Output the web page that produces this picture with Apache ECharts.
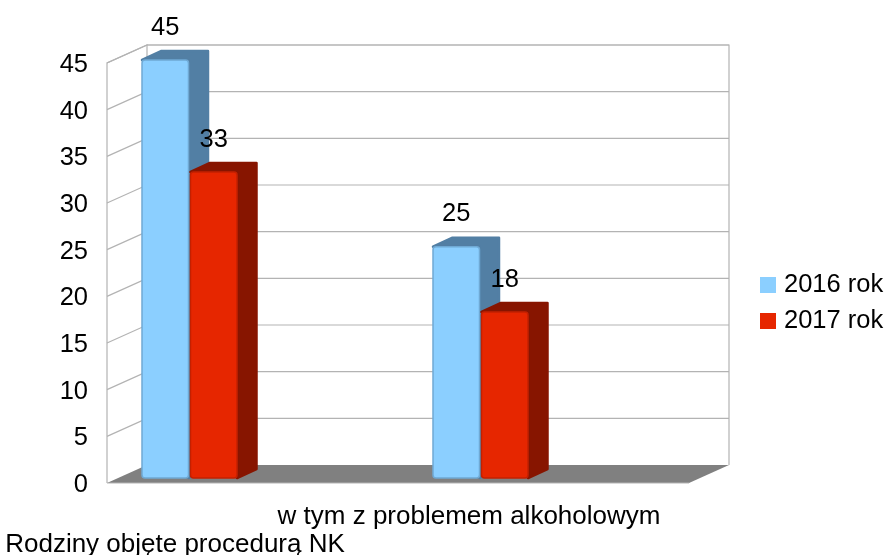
<!DOCTYPE html>
<html><head><meta charset="utf-8">
<style>html,body{margin:0;padding:0;background:#fff}#c{width:885px;height:555px}</style>
<script src="https://cdn.jsdelivr.net/npm/echarts@6/dist/echarts.min.js"></script>
</head><body><div id="c"></div>
<script>
var categories = ['Rodziny objęte procedurą NK', 'w tym z problemem alkoholowym'];
var seriesNames = ['2016 rok', '2017 rok'];
var values2016 = [45, 25];
var values2017 = [33, 18];
var gridValues = [0, 5, 10, 15, 20, 25, 30, 35, 40, 45];

var FONT = '"Liberation Sans", Arial, sans-serif';
var WALL = ['#b3b3b3'];
var xMin = -0.2835, xMax = 1.7165, yMax = 45;
var wallDx = 40, wallDy = -18, barDx = 19.5, barDy = -9;

var chart = echarts.init(document.getElementById('c'), null, {renderer: 'canvas'});

function renderGrid(params, api) {
  var v = api.value(0);
  var p0 = api.coord([xMin, v]);
  var p1 = api.coord([xMax, v]);
  var back0 = [p0[0] + wallDx, p0[1] + wallDy];
  var back1 = [p1[0] + wallDx, p1[1] + wallDy];
  return {
    type: 'polyline',
    shape: {points: [p0, back0, back1]},
    style: {fill: null, stroke: WALL[0], lineWidth: 1.2}
  };
}

function renderFrame(params, api) {
  var a = api.coord([xMin, 0]), b = api.coord([xMax, 0]);
  var t = api.coord([xMin, yMax]), u = api.coord([xMax, yMax]);
  var off = function (p) { return [p[0] + wallDx, p[1] + wallDy]; };
  return {
    type: 'group',
    children: [
      {type: 'polygon', shape: {points: [a, b, off(b), off(a)]},
       style: {fill: '#808080', stroke: null}},
      {type: 'polyline', shape: {points: [a, t, off(t), off(a)]},
       style: {fill: null, stroke: WALL[0], lineWidth: 1.2}},
      {type: 'polyline', shape: {points: [off(t), off(u), off(b)]},
       style: {fill: null, stroke: WALL[0], lineWidth: 1.2}},
      {type: 'line', shape: {x1: a[0], y1: a[1], x2: b[0], y2: b[1]},
       style: {stroke: WALL[0], lineWidth: 1.2}}
    ]
  };
}

function barRenderer(pos, face, edge, side) {
  return function (params, api) {
    var x = api.value(0), v = api.value(1);
    var top = api.coord([x, v]), base = api.coord([x, 0]);
    var w = 46.5;
    var x0 = top[0] + (pos === 0 ? -47.5 : 1);
    var x1 = x0 + w;
    var y0 = top[1] - 3;
    var y1 = base[1] - 5;
    return {
      type: 'group',
      children: [
        {type: 'polygon',
         shape: {points: [[x0, y0], [x0 + barDx, y0 + barDy], [x1 + barDx, y0 + barDy],
                          [x1 + barDx, y1 + barDy], [x1, y1], [x1, y0]]},
         style: {fill: side, stroke: side, lineWidth: 2.5, lineJoin: 'round'}},
        {type: 'rect', shape: {x: x0, y: y0, width: w, height: y1 - y0, r: 3},
         style: {fill: face, stroke: edge, lineWidth: 1.5}},
        {type: 'text', z2: 10,
         style: {text: String(v), x: (x0 + x1) / 2, y: y0 - 32.5, align: 'center', verticalAlign: 'middle',
                 font: '25.5px ' + FONT, fill: '#000'}}
      ]
    };
  };
}

chart.setOption({
  animation: false,
  backgroundColor: '#fff',
  color: ['#8BCFFF', '#E62600'],
  grid: [
    {left: 107, width: 582, top: 63, height: 420, outerBoundsMode: 'none'},
    {left: 28, width: 588, top: 65, height: 420, outerBoundsMode: 'none'}
  ],
  xAxis: [
    {type: 'value', gridIndex: 0, min: xMin, max: xMax, show: false},
    {type: 'category', gridIndex: 1, data: categories, boundaryGap: true,
     axisLine: {show: false}, axisTick: {show: false}, splitLine: {show: false},
     axisLabel: {interval: 0, hideOverlap: false, margin: 18, fontFamily: FONT, fontSize: 26, color: '#000', lineHeight: 28,
                 formatter: function (s, i) { return i === 0 ? '\n' + s : s; }}}
  ],
  yAxis: [
    {type: 'value', gridIndex: 0, min: 0, max: yMax, interval: 5, show: false},
    {type: 'value', gridIndex: 1, min: 0, max: yMax, interval: 5, position: 'left', offset: -79,
     axisLine: {show: false}, axisTick: {show: false}, splitLine: {show: false},
     axisLabel: {margin: 19, fontFamily: FONT, fontSize: 25.5, color: '#000'}}
  ],
  legend: {
    data: seriesNames, orient: 'vertical', left: 760, top: 272, icon: 'rect',
    itemWidth: 16, itemHeight: 16, itemGap: 10, padding: 0, selectedMode: false,
    textStyle: {fontFamily: FONT, fontSize: 25.5, color: '#000', padding: [3, 0, 0, 3]}
  },
  series: [
    {type: 'custom', silent: true, clip: false, xAxisIndex: 0, yAxisIndex: 0, z: 1,
     encode: {y: 0}, data: [[0]], renderItem: renderFrame},
    {type: 'custom', silent: true, clip: false, xAxisIndex: 0, yAxisIndex: 0, z: 2,
     encode: {y: 0}, data: gridValues.slice(1).map(function (v) { return [v]; }), renderItem: renderGrid},
    {type: 'custom', name: seriesNames[0], clip: false, xAxisIndex: 0, yAxisIndex: 0, z: 3,
     encode: {x: 0, y: 1}, data: values2016.map(function (v, i) { return [i, v]; }),
     itemStyle: {color: '#8BCFFF'},
     renderItem: barRenderer(0, '#8BCFFF', '#6FA9D4', '#527FA4')},
    {type: 'custom', name: seriesNames[1], clip: false, xAxisIndex: 0, yAxisIndex: 0, z: 4,
     encode: {x: 0, y: 1}, data: values2017.map(function (v, i) { return [i, v]; }),
     itemStyle: {color: '#E62600'},
     renderItem: barRenderer(1, '#E62600', '#C42000', '#871500')}
  ]
});
</script></body></html>
